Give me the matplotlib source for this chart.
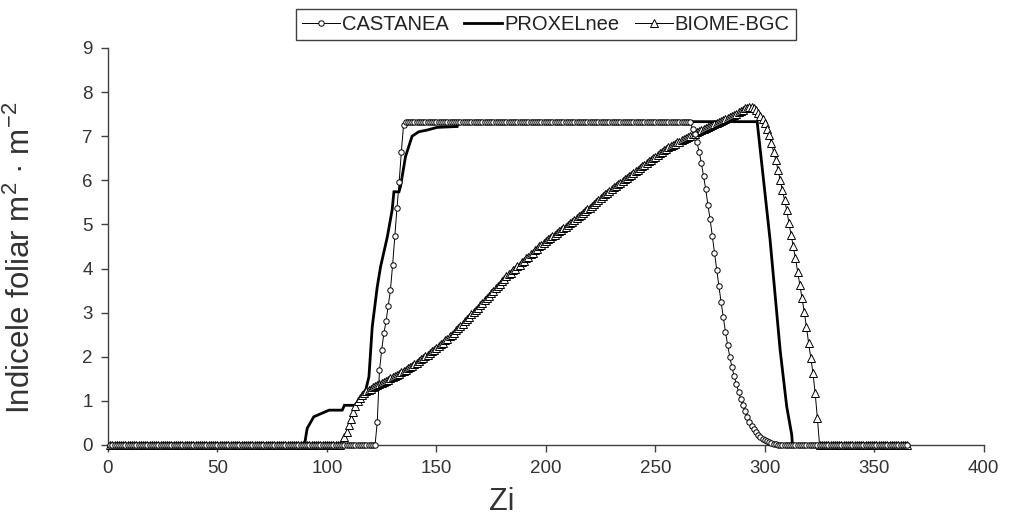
import numpy as np
import matplotlib
matplotlib.use("Agg")
import matplotlib.pyplot as plt

plt.rcParams["font.family"] = ["Liberation Sans", "DejaVu Sans"]
plt.rcParams["mathtext.fontset"] = "custom"
plt.rcParams["mathtext.rm"] = "Liberation Sans"
plt.rcParams["mathtext.it"] = "Liberation Sans"
plt.rcParams["mathtext.bf"] = "Liberation Sans"

N_DAYS = 365
days = np.arange(1, N_DAYS + 1)

# CASTANEA (daily values; zero outside the listed segments)
cast_rise_start = 123
cast_rise = [0.53, 1.69, 2.15, 2.53, 2.80, 3.15, 3.51, 4.08, 4.74, 5.37, 5.97, 6.65, 7.26]
cast_plateau = 7.33
cast_fall_start = 267
cast_fall = [7.16, 7.05, 6.86, 6.65, 6.40, 6.10, 5.80, 5.44, 5.12, 4.74,
             4.35, 3.97, 3.61, 3.25, 2.91, 2.57, 2.27, 2.00, 1.76, 1.56,
             1.38, 1.21, 1.05, 0.90, 0.76, 0.64, 0.53, 0.44, 0.36, 0.29,
             0.23, 0.18, 0.14, 0.11, 0.08, 0.06, 0.04, 0.03, 0.02, 0.01]

# PROXELnee (line vertices: day, value)
prox_day = [1, 89, 90, 91, 94, 101, 107, 108, 113, 115.4, 117.7, 119.2, 120.7, 123,
            124.5, 127.6, 129.8, 130.6, 132.9, 133.6, 135.9, 138.9, 141.9, 145.8,
            150.3, 159.5, 160, 296.5, 302.4, 307, 310, 312.3, 312.6, 365]
prox_val = [0, 0, 0.08, 0.38, 0.64, 0.79, 0.79, 0.90, 0.90, 1.05, 1.24, 1.55, 2.68, 3.59,
            4.04, 4.72, 5.33, 5.74, 5.74, 5.86, 6.54, 7.00, 7.10, 7.14,
            7.20, 7.22, 7.33, 7.33, 4.65, 2.15, 0.87, 0.23, 0, 0]

# BIOME-BGC (daily values from day 107 to 324; zero elsewhere)
biome_start = 107
biome_vals = [
    0.05, 0.19, 0.30, 0.45, 0.60, 0.75, 0.88, 0.99, 1.07, 1.13,
    1.18, 1.22, 1.25, 1.28, 1.31, 1.33, 1.36, 1.38, 1.41, 1.43,
    1.46, 1.48, 1.51, 1.54, 1.56, 1.59, 1.62, 1.65, 1.68, 1.71,
    1.74, 1.77, 1.80, 1.84, 1.87, 1.90, 1.94, 1.97, 2.01, 2.04,
    2.08, 2.12, 2.16, 2.20, 2.24, 2.28, 2.32, 2.37, 2.41, 2.46,
    2.50, 2.55, 2.60, 2.65, 2.70, 2.75, 2.80, 2.85, 2.90, 2.96,
    3.01, 3.06, 3.11, 3.17, 3.22, 3.28, 3.33, 3.38, 3.44, 3.49,
    3.55, 3.60, 3.66, 3.71, 3.77, 3.82, 3.87, 3.91, 3.96, 4.00,
    4.05, 4.09, 4.14, 4.18, 4.23, 4.27, 4.32, 4.36, 4.41, 4.45,
    4.50, 4.54, 4.58, 4.62, 4.66, 4.70, 4.73, 4.77, 4.81, 4.84,
    4.88, 4.92, 4.95, 4.99, 5.03, 5.06, 5.10, 5.14, 5.18, 5.22,
    5.26, 5.30, 5.34, 5.38, 5.42, 5.46, 5.50, 5.55, 5.60, 5.64,
    5.68, 5.72, 5.76, 5.80, 5.84, 5.88, 5.91, 5.95, 5.99, 6.02,
    6.06, 6.10, 6.13, 6.17, 6.21, 6.24, 6.28, 6.32, 6.35, 6.39,
    6.43, 6.46, 6.50, 6.54, 6.57, 6.61, 6.65, 6.68, 6.72, 6.75,
    6.77, 6.80, 6.83, 6.86, 6.88, 6.91, 6.93, 6.96, 6.99, 7.01,
    7.04, 7.06, 7.09, 7.12, 7.14, 7.16, 7.18, 7.21, 7.23, 7.25,
    7.27, 7.30, 7.32, 7.34, 7.36, 7.39, 7.41, 7.43, 7.45, 7.48,
    7.51, 7.54, 7.57, 7.60, 7.63, 7.65, 7.66, 7.67, 7.64, 7.59,
    7.53, 7.46, 7.38, 7.29, 7.16, 7.03, 6.84, 6.65, 6.46, 6.24,
    6.01, 5.78, 5.56, 5.33, 5.03, 4.76, 4.50, 4.23, 3.93, 3.63,
    3.33, 3.02, 2.68, 2.31, 1.97, 1.63, 1.17, 0.61,
]

# assemble daily series
castanea = np.zeros(N_DAYS)
castanea[cast_rise_start - 1:cast_rise_start - 1 + len(cast_rise)] = cast_rise
castanea[cast_rise_start - 1 + len(cast_rise):cast_fall_start - 1] = cast_plateau
castanea[cast_fall_start - 1:cast_fall_start - 1 + len(cast_fall)] = cast_fall

biome = np.zeros(N_DAYS)
biome[biome_start - 1:biome_start - 1 + len(biome_vals)] = biome_vals

INK = "#333333"

fig = plt.figure(figsize=(10.09, 5.16), dpi=100)
ax = fig.add_axes([0.107, 0.1376, 0.868, 0.7694])

ax.plot(prox_day, prox_val, color="black", lw=2.0, zorder=2,
        solid_joinstyle="miter", label="PROXELnee", clip_on=False)
ax.plot(days, biome, color="black", lw=0.7, marker="^", ms=5.5, mfc="white",
        mec="black", mew=0.7, zorder=3, label="BIOME-BGC", clip_on=False)
ax.plot(days, castanea, color="black", lw=0.7, marker="o", ms=3.9, mfc="white",
        mec="black", mew=0.7, zorder=4, label="CASTANEA", clip_on=False)

ax.set_xlim(0, 400)
ax.set_ylim(0, 9)
ax.set_xticks(range(0, 401, 50))
ax.set_yticks(range(0, 10))

for side in ["top", "right"]:
    ax.spines[side].set_visible(False)
for side in ["left", "bottom"]:
    ax.spines[side].set_color("#404040")
    ax.spines[side].set_linewidth(1.0)

ax.tick_params(direction="out", length=5, width=1, color="#404040",
               labelsize=13.5, labelcolor=INK, pad=6)

ax.set_xlabel("Zi", fontsize=22, color=INK)
ax.xaxis.set_label_coords(0.449, -0.105)
ax.set_ylabel("Indicele foliar m$^{2}$ \u00b7 m$^{-2}$", fontsize=22.5, color=INK)
ax.yaxis.set_label_coords(-0.081, 0.47)

handles, labels = ax.get_legend_handles_labels()
order = [2, 0, 1]
leg = fig.legend([handles[i] for i in order], [labels[i] for i in order],
                 loc="center", bbox_to_anchor=(0.541, 0.953), ncol=3,
                 fontsize=14.5, frameon=True, fancybox=False, framealpha=1,
                 edgecolor="#404040", handlelength=1.9, handletextpad=0.1,
                 columnspacing=0.75, borderpad=0.3, borderaxespad=0)
leg.get_frame().set_linewidth(1.0)
for t in leg.get_texts():
    t.set_color("#222222")

fig.savefig("out.png", dpi=100)
